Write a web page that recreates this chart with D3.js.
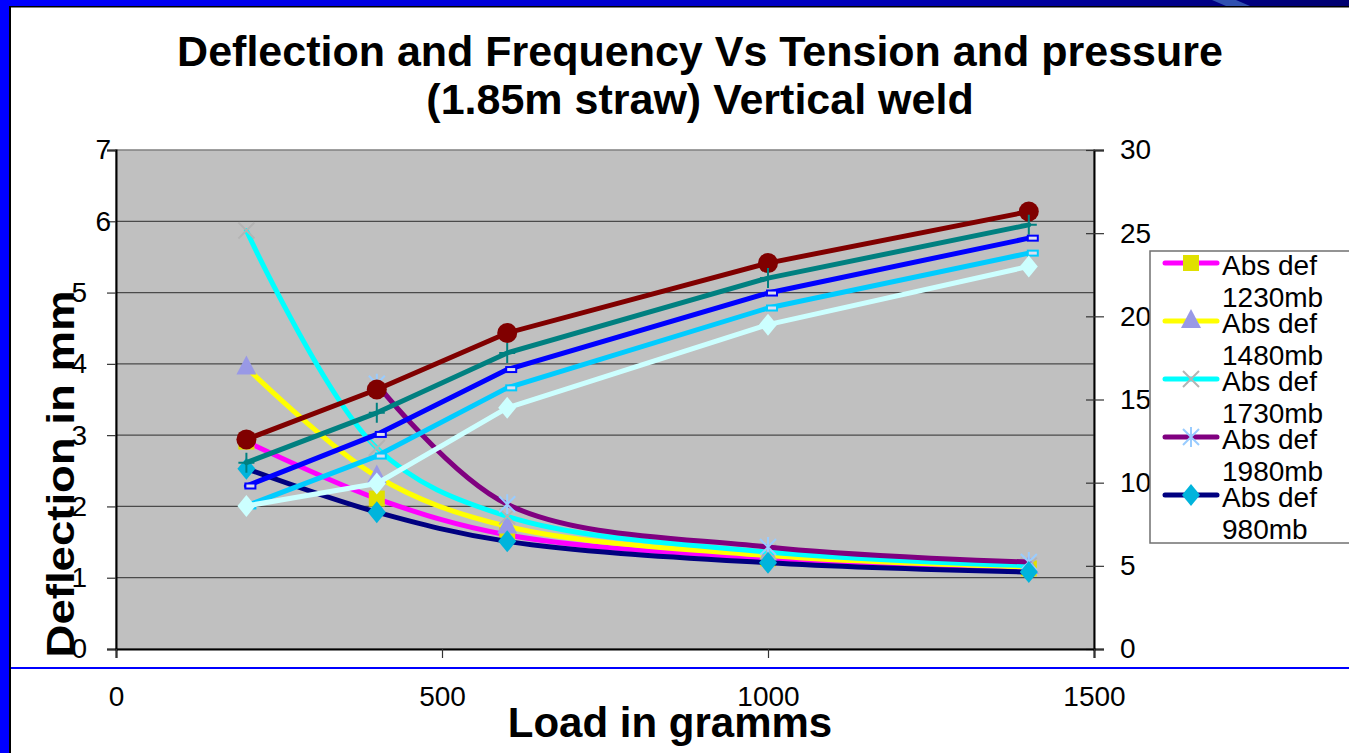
<!DOCTYPE html>
<head>
<meta charset="utf-8">
<style>
body { margin: 0; background: #fff; }
svg { display: block; font-family: "Liberation Sans", Arial, sans-serif; }
.legend text { font-size: 28px; }
</style>
</head>
<body>
<svg width="1349" height="753"></svg>
<script src="https://cdnjs.cloudflare.com/ajax/libs/d3/7.8.5/d3.min.js"></script>
<script>
// data
var loads = [200, 400, 600, 1000, 1400];

// deflection (left axis, mm)
var def1230 = [2.91, 2.11, 1.60, 1.27, 1.13];
var def1480 = [3.95, 2.42, 1.72, 1.31, 1.15];
var def1730 = [5.87, 2.82, 1.86, 1.36, 1.17];
var def1980 = [null, 3.72, 2.03, 1.43, 1.22];
var def980  = [2.53, 1.92, 1.51, 1.21, 1.08];

// frequency (right axis)
var freqA = [12.6, 15.6, 19.0, 23.2, 26.3];
var freqB = [11.2, 14.2, 17.8, 22.3, 25.5];
var freqC = [9.8, 12.9, 16.8, 21.4, 24.7];
var freqD = [8.6, 11.6, 15.7, 20.5, 23.8];
var freqE = [8.6, 9.95, 14.5, 19.5, 23.0];

var xTicks = [0, 500, 1000, 1500];
var yLeftTicks = [0, 1, 2, 3, 4, 5, 6, 7];
var yRightTicks = [0, 5, 10, 15, 20, 25, 30];

var legendNames = ["Abs def 1230mb", "Abs def 1480mb", "Abs def 1730mb", "Abs def 1980mb", "Abs def 980mb"];

var svg = d3.select("svg");

// slide frame
var grad = svg.append("defs").append("linearGradient").attr("id", "topband");
grad.append("stop").attr("offset", "0%").attr("stop-color", "#0000ff");
grad.append("stop").attr("offset", "60%").attr("stop-color", "#0000c0");
grad.append("stop").attr("offset", "100%").attr("stop-color", "#000070");
svg.append("rect").attr("x", 0).attr("y", 0).attr("width", 1349).attr("height", 6).attr("fill", "url(#topband)");
svg.append("rect").attr("x", 0).attr("y", 6).attr("width", 1349).attr("height", 1.5).attr("fill", "#000");
svg.append("rect").attr("x", 0).attr("y", 0).attr("width", 9).attr("height", 753).attr("fill", "#0000ff");
svg.append("rect").attr("x", 9).attr("y", 6).attr("width", 2).attr("height", 747).attr("fill", "#000");
svg.append("path").attr("d", "M1212,0 L1236,0 L1250,6 L1226,6 Z").attr("fill", "#3050b0");
svg.append("line").attr("x1", 11).attr("x2", 1349).attr("y1", 668).attr("y2", 668)
  .attr("stroke", "#0000ff").attr("stroke-width", 2);

// scales
var x = d3.scaleLinear().domain([0, 1500]).range([116, 1094]);
var yL = d3.scaleLinear().domain([0, 7]).range([649, 150]);
var yR = d3.scaleLinear().domain([0, 30]).range([649, 150]);

// plot area
svg.append("rect").attr("x", 116).attr("y", 150).attr("width", 978).attr("height", 499)
  .attr("fill", "#c0c0c0").attr("stroke", "#808080").attr("stroke-width", 1.5);

svg.append("g").selectAll("line")
  .data(yLeftTicks.filter(function(d) { return d > 0 && d < 7; }))
  .enter().append("line")
  .attr("x1", 116).attr("x2", 1094)
  .attr("y1", function(d) { return yL(d); })
  .attr("y2", function(d) { return yL(d); })
  .attr("stroke", "#4a4a4a").attr("stroke-width", 1.2);

// axes
var gl = svg.append("g").attr("transform", "translate(116,0)")
  .call(d3.axisLeft(yL).tickValues(yLeftTicks).tickSize(9).tickPadding(6).tickFormat(d3.format("d")));
// labels 0-5 sit further left than 7 and 6 in the original
gl.selectAll(".tick text").attr("x", function(d) { return d >= 6 ? -5 : -29; });

var gr = svg.append("g").attr("transform", "translate(1094,0)")
  .call(d3.axisRight(yR).tickValues(yRightTicks).tickSize(10).tickPadding(16).tickFormat(d3.format("d")));
gr.selectAll(".tick line").attr("x1", -8);

var gx = svg.append("g").attr("transform", "translate(0,649)")
  .call(d3.axisBottom(x).tickValues(xTicks).tickSize(9).tickPadding(28).tickFormat(d3.format("d")));

[gl, gr, gx].forEach(function(g) {
  g.select(".domain").attr("stroke", "#000").attr("stroke-width", 2);
  g.selectAll(".tick line").attr("stroke", "#333").attr("stroke-width", 1.2);
  g.selectAll(".tick text").attr("font-size", 28).attr("font-family", "Liberation Sans, Arial, sans-serif");
});

// markers
function marker(g, type, fill) {
  if (type == "square") {
    g.append("rect").attr("x", -8).attr("y", -8).attr("width", 16).attr("height", 16).attr("fill", fill);
  } else if (type == "triangle") {
    g.append("path").attr("d", "M0,-12L10,7L-10,7Z").attr("fill", fill);
  } else if (type == "x") {
    g.append("path").attr("d", "M-8,-8L8,8M-8,8L8,-8").attr("stroke", fill).attr("stroke-width", 2);
  } else if (type == "star") {
    g.append("path").attr("d", "M-8,-8L8,8M-8,8L8,-8M0,-10L0,10").attr("stroke", fill).attr("stroke-width", 2);
  } else if (type == "diamond") {
    g.append("path").attr("d", "M0,-11L9,0L0,11L-9,0Z").attr("fill", fill);
  } else if (type == "circle") {
    g.append("circle").attr("r", 10).attr("fill", fill);
  } else if (type == "plus") {
    g.append("path").attr("d", "M0,-10L0,10M-8,0L8,0").attr("stroke", fill).attr("stroke-width", 2);
  } else if (type == "dash") {
    g.append("rect").attr("x", -1).attr("y", -2.5).attr("width", 10).attr("height", 5)
      .attr("fill", "#dde").attr("stroke", fill).attr("stroke-width", 2);
  }
}

var series = [
  { values: def1230, y: yL, line: "#ff00ff", mark: "square", mfill: "#e0e000", smooth: true },
  { values: def1480, y: yL, line: "#ffff00", mark: "triangle", mfill: "#9999e6", smooth: true },
  { values: def1730, y: yL, line: "#00ffff", mark: "x", mfill: "#b4b4b4", smooth: true },
  { values: def1980, y: yL, line: "#800080", mark: "star", mfill: "#99ccff", smooth: true },
  { values: def980,  y: yL, line: "#000080", mark: "diamond", mfill: "#00b4dc", smooth: true },
  { values: freqA, y: yR, line: "#800000", mark: "circle", mfill: "#800000", smooth: false },
  { values: freqB, y: yR, line: "#008080", mark: "plus", mfill: "#008080", smooth: false },
  { values: freqC, y: yR, line: "#0000ff", mark: "dash", mfill: "#0000ff", smooth: false },
  { values: freqD, y: yR, line: "#00ccff", mark: "dash", mfill: "#00ccff", smooth: false },
  { values: freqE, y: yR, line: "#ccffff", mark: "diamond", mfill: "#ccffff", smooth: false }
];

series.forEach(function(s) {
  var pts = loads.map(function(l, i) { return [l, s.values[i]]; })
    .filter(function(p) { return p[1] != null; });
  var line = d3.line()
    .x(function(p) { return x(p[0]); })
    .y(function(p) { return s.y(p[1]); })
    .curve(s.smooth ? d3.curveCatmullRom.alpha(0.5) : d3.curveLinear);
  svg.append("path").datum(pts).attr("d", line)
    .attr("fill", "none").attr("stroke", s.line).attr("stroke-width", 5)
    .attr("stroke-linejoin", "round").attr("stroke-linecap", "round");
  pts.forEach(function(p) {
    var g = svg.append("g").attr("transform", "translate(" + x(p[0]) + "," + s.y(p[1]) + ")");
    marker(g, s.mark, s.mfill);
  });
});

// legend (cut off at the right edge of the slide)
var legend = svg.append("g").attr("class", "legend");
legend.append("rect").attr("x", 1150).attr("y", 251).attr("width", 220).attr("height", 292)
  .attr("fill", "#fff").attr("stroke", "#707070").attr("stroke-width", 1.5);
legendNames.forEach(function(name, i) {
  var s = series[i], ly = 263 + 58 * i;
  legend.append("line").attr("x1", 1165).attr("x2", 1217).attr("y1", ly).attr("y2", ly)
    .attr("stroke", s.line).attr("stroke-width", 5).attr("stroke-linecap", "round");
  marker(legend.append("g").attr("transform", "translate(1191," + ly + ")"), s.mark, s.mfill);
  var parts = name.split(" ");
  legend.append("text").attr("x", 1222).attr("y", 275 + 58 * i).text(parts[0] + " " + parts[1]);
  legend.append("text").attr("x", 1222).attr("y", 307 + 58 * i).text(parts[2]);
});

// titles
svg.append("text").attr("x", 700).attr("y", 66).attr("text-anchor", "middle")
  .attr("font-size", 43).attr("font-weight", "bold").text("Deflection and Frequency Vs Tension and pressure");
svg.append("text").attr("x", 700).attr("y", 114).attr("text-anchor", "middle")
  .attr("font-size", 43).attr("font-weight", "bold").text("(1.85m straw) Vertical weld");
svg.append("text").attr("x", 670).attr("y", 737).attr("text-anchor", "middle")
  .attr("font-size", 42).attr("font-weight", "bold").text("Load in gramms");
svg.append("text").attr("transform", "translate(74,474) rotate(-90)").attr("text-anchor", "middle")
  .attr("font-size", 38).attr("font-weight", "bold")
  .attr("textLength", 367).attr("lengthAdjust", "spacingAndGlyphs").text("Deflection in mm");
</script>
